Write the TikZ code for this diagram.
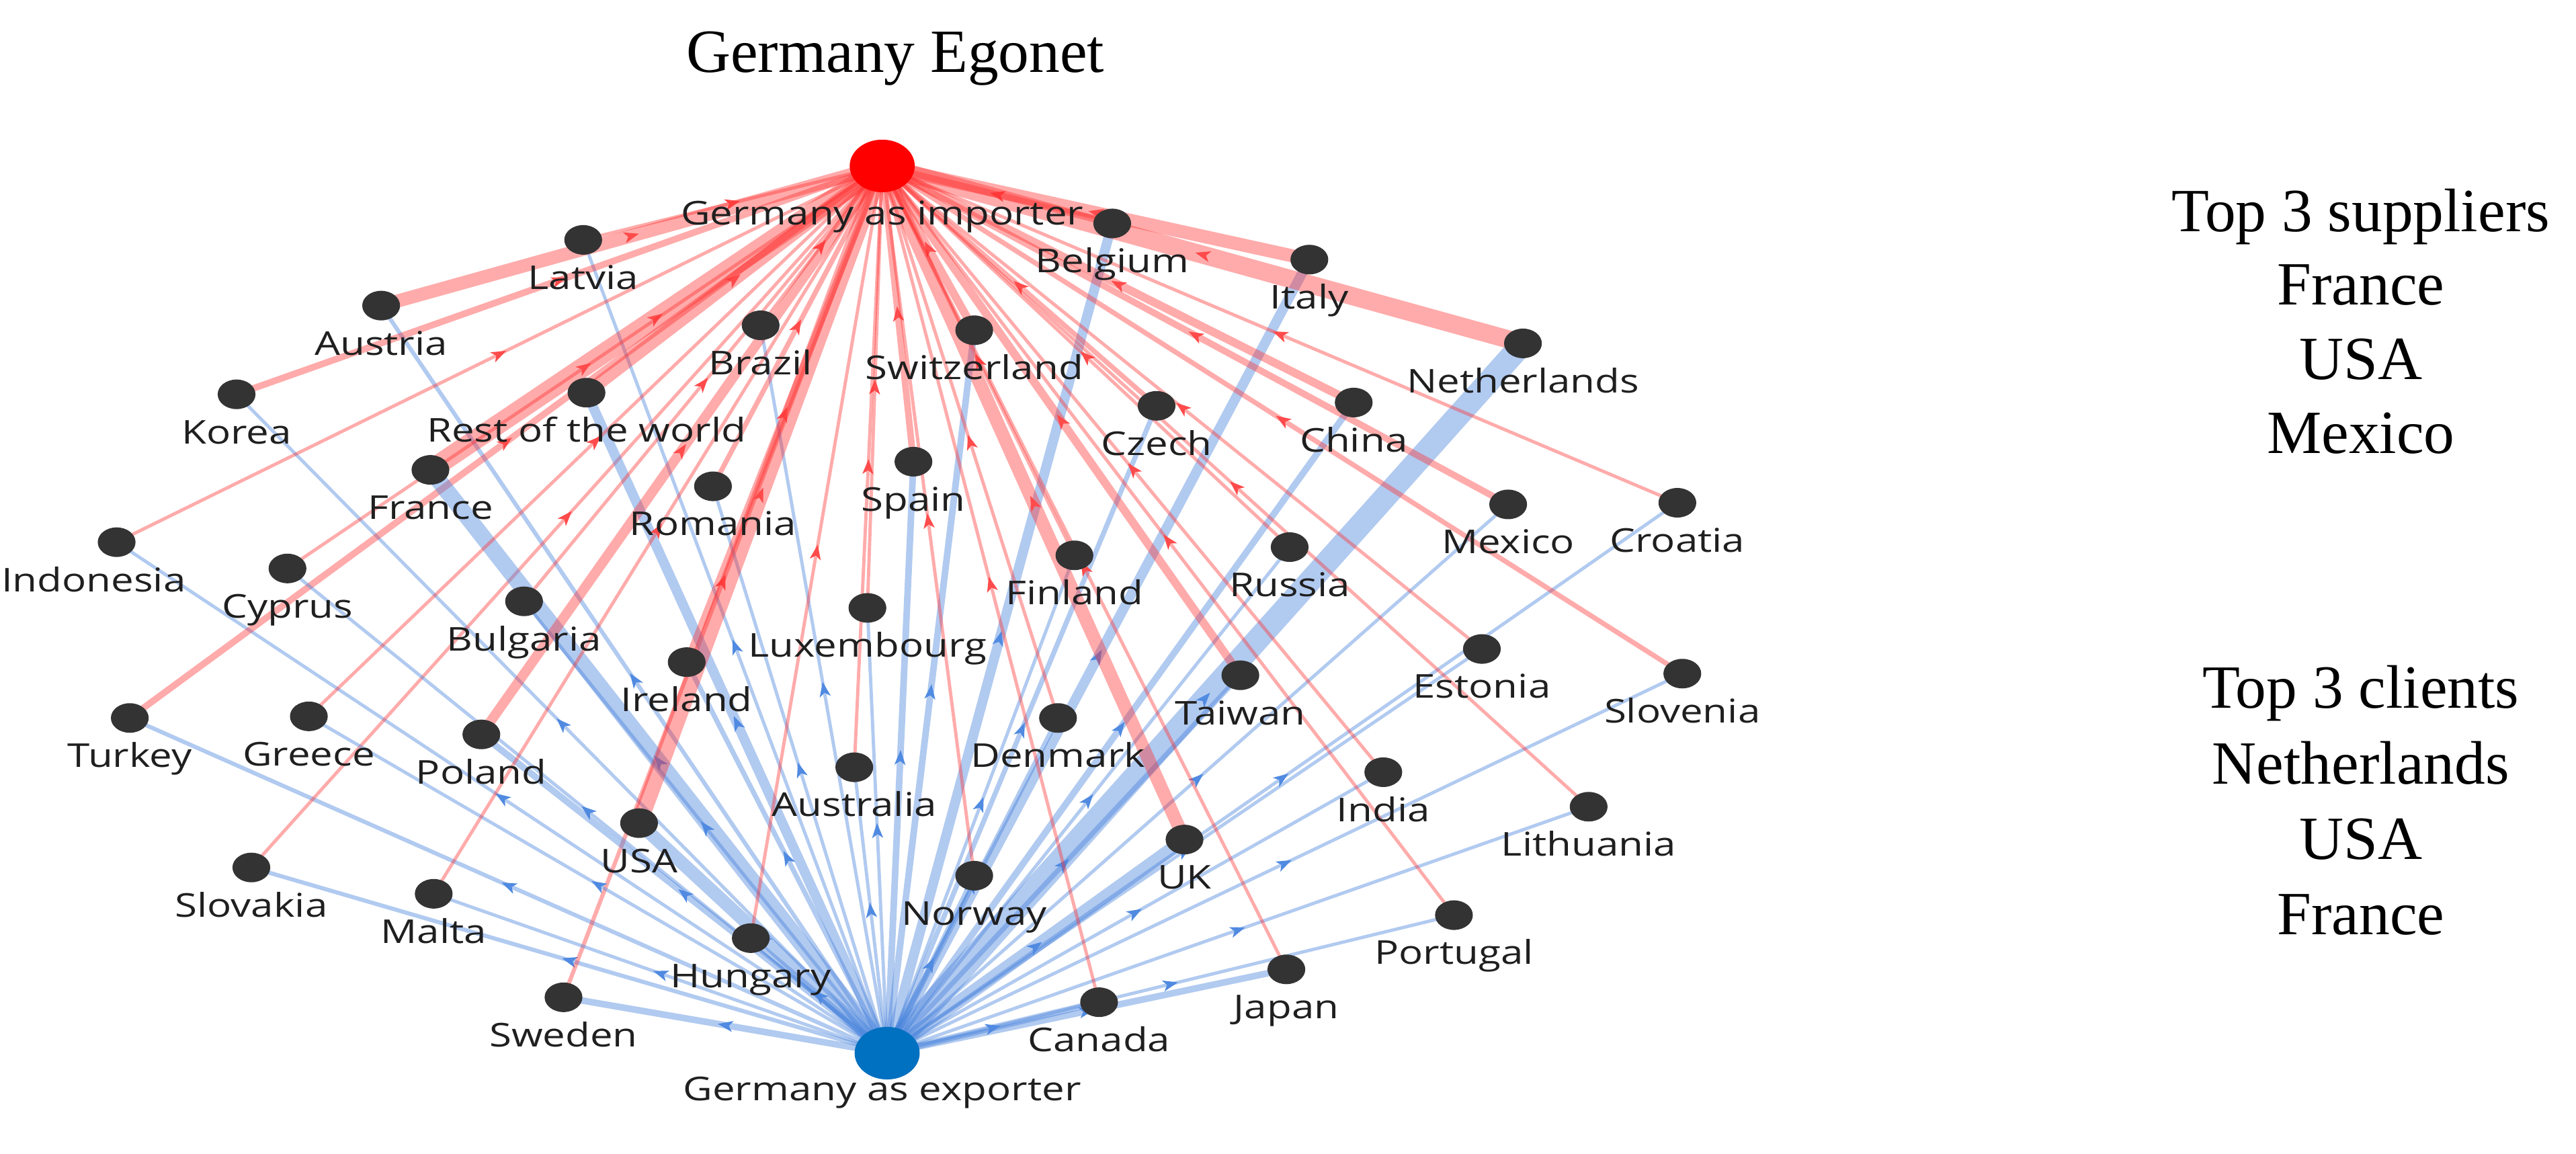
\documentclass[tikz,border=0pt]{standalone}
\usepackage{fontspec}
\newfontfamily\labfont[FakeStretch=1.23]{Open Sans}
\newfontfamily\sidefont{Liberation Serif}
\usetikzlibrary{backgrounds,decorations.markings,shapes.geometric}
\definecolor{redline}{RGB}{255,45,45}
\definecolor{redarrow}{RGB}{255,75,75}
\definecolor{blueline}{RGB}{70,130,220}
\definecolor{bluearrow}{RGB}{80,138,225}
\definecolor{nodegray}{RGB}{51,51,51}
\definecolor{impred}{RGB}{255,0,0}
\definecolor{expblue}{RGB}{0,112,192}
\tikzset{
  cnode/.style={shape=ellipse, minimum width=5.75mm, minimum height=4.5mm, inner sep=0pt, fill=nodegray},
  bignode/.style={shape=ellipse, minimum width=9.9mm, minimum height=8mm, inner sep=0pt},
  lab/.style={font=\labfont\fontsize{14.2pt}{16pt}\selectfont, text=black!88, anchor=base, inner sep=0pt},
  side/.style={font=\sidefont\fontsize{26.6pt}{30pt}\selectfont, anchor=base, inner sep=0pt},
  rE/.style={draw=redline, draw opacity=0.4, line width=#1*0.25mm,
    postaction={decorate, decoration={markings, mark=at position 0.5 with
      {\fill[redarrow, fill opacity=1] (1.15mm,0) -- (-1.15mm,0.85mm) -- (-0.55mm,0) -- (-1.15mm,-0.85mm) -- cycle;}}}},
  bE/.style={draw=blueline, draw opacity=0.42, line width=#1*0.25mm,
    postaction={decorate, decoration={markings, mark=at position 0.5 with
      {\fill[bluearrow, fill opacity=1] (1.15mm,0) -- (-1.15mm,0.85mm) -- (-0.55mm,0) -- (-1.15mm,-0.85mm) -- cycle;}}}}
}
% name, x, y, label, label x, red width, blue width
\newcommand\ctry[7]{%
  \node[cnode] (#1) at (#2,#3) {};
  \node[lab] (#1L) at (#5,#3+30) {#4};
  \begin{pgfonlayer}{background}
    \draw[bE=#7] (exp.center) -- (#1.center);
    \draw[rE=#6] (#1.center) -- (imp.center);
  \end{pgfonlayer}
}
\begin{document}
\begin{tikzpicture}[x=0.25mm,y=-0.25mm]
\useasboundingbox (0,0) rectangle (1568,702);
\begin{pgfonlayer}{background}
  \fill[white] (0,0) rectangle (1568,702);
\end{pgfonlayer}
% ego nodes
\node[bignode, fill=impred] (imp) at (537,101) {};
\node[lab] (impL) at (537,137) {Germany as importer};
\node[bignode, fill=expblue] (exp) at (540,641) {};
\node[lab] (expL) at (537,670) {Germany as exporter};
% countries
\ctry{Latvia}{355}{146}{Latvia}{355}{2}{2}
\ctry{Austria}{232}{186}{Austria}{232}{8}{2.5}
\ctry{Korea}{144}{240}{Korea}{144}{4}{2}
\ctry{Indonesia}{71}{330}{Indonesia}{57}{2}{2}
\ctry{Turkey}{79}{437}{Turkey}{79}{4}{2.5}
\ctry{Slovakia}{153}{528}{Slovakia}{153}{2}{2.5}
\ctry{Sweden}{343}{607}{Sweden}{343}{2.5}{4}
\ctry{Belgium}{677}{136}{Belgium}{677}{4}{6}
\ctry{Italy}{797}{158}{Italy}{797}{8}{6}
\ctry{Netherlands}{927}{209}{Netherlands}{927}{11}{14}
\ctry{Brazil}{463}{198}{Brazil}{463}{2}{2}
\ctry{Switzerland}{593}{201}{Switzerland}{593}{5}{4}
\ctry{Rest}{357}{239}{Rest of the world}{357}{8}{6}
\ctry{Czech}{704}{247}{Czech}{704}{3}{3}
\ctry{China}{824}{245}{China}{824}{5}{4}
\ctry{France}{262}{286}{France}{262}{12}{10}
\ctry{Romania}{434}{296}{Romania}{434}{3}{2}
\ctry{Spain}{556}{281}{Spain}{556}{4}{4}
\ctry{Mexico}{918}{307}{Mexico}{918}{4}{2}
\ctry{Croatia}{1021}{306}{Croatia}{1021}{2}{2}
\ctry{Cyprus}{175}{346}{Cyprus}{175}{2}{2}
\ctry{Finland}{654}{338}{Finland}{654}{2}{2}
\ctry{Russia}{785}{333}{Russia}{785}{2}{2}
\ctry{Bulgaria}{319}{366}{Bulgaria}{319}{2}{2}
\ctry{Luxembourg}{528}{370}{Luxembourg}{528}{2}{2}
\ctry{Ireland}{418}{403}{Ireland}{418}{4}{3}
\ctry{Estonia}{902}{395}{Estonia}{902}{2}{2}
\ctry{Slovenia}{1024}{410}{Slovenia}{1024}{3}{2}
\ctry{Taiwan}{755}{411}{Taiwan}{755}{5}{3}
\ctry{Greece}{188}{436}{Greece}{188}{2}{2}
\ctry{Poland}{293}{447}{Poland}{293}{6}{4}
\ctry{Denmark}{644}{437}{Denmark}{644}{2}{3}
\ctry{Australia}{520}{467}{Australia}{520}{2}{2}
\ctry{India}{842}{470}{India}{842}{2}{2}
\ctry{USA}{389}{501}{USA}{389}{10}{8}
\ctry{Lithuania}{967}{491}{Lithuania}{967}{2}{2}
\ctry{UK}{721}{511}{UK}{721}{8}{8}
\ctry{Malta}{264}{544}{Malta}{264}{2}{2}
\ctry{Norway}{593}{533}{Norway}{593}{2}{3}
\ctry{Hungary}{457}{571}{Hungary}{457}{2}{4}
\ctry{Portugal}{885}{557}{Portugal}{885}{2}{2}
\ctry{Japan}{783}{590}{Japan}{783}{2}{4}
\ctry{Canada}{669}{610}{Canada}{669}{2}{4}
% title and side text
\node[side] (title) at (545,44) {Germany Egonet};
\node[side] (s1) at (1437,141) {Top 3 suppliers};
\node[side] (s2) at (1437,185.5) {France};
\node[side] (s3) at (1437,231) {USA};
\node[side] (s4) at (1437,276) {Mexico};
\node[side] (c1) at (1437,431) {Top 3 clients};
\node[side] (c2) at (1437,477) {Netherlands};
\node[side] (c3) at (1437,523) {USA};
\node[side] (c4) at (1437,569) {France};
\end{tikzpicture}
\end{document}
